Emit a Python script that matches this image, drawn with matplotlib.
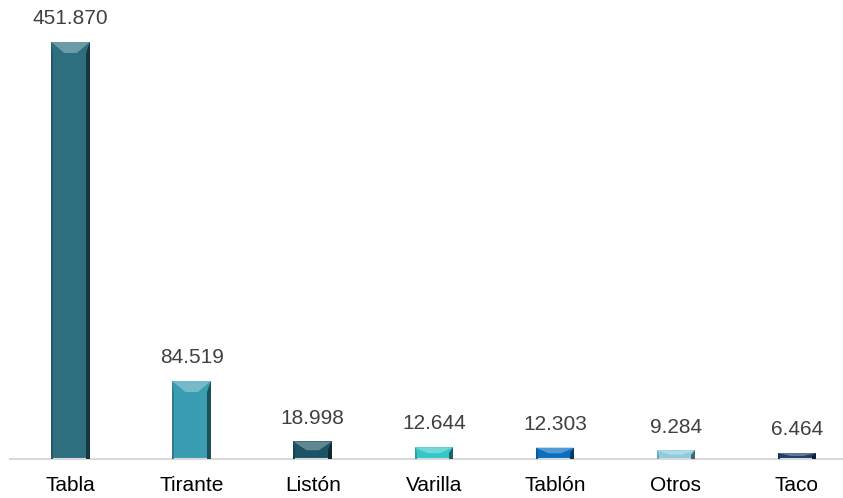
import matplotlib
matplotlib.use("Agg")
import matplotlib.pyplot as plt
from matplotlib.patches import Polygon
import matplotlib.colors as mcolors

# ---------- data ----------
categories = ["Tabla", "Tirante", "Listón", "Varilla", "Tablón", "Otros", "Taco"]
values = [451870, 84519, 18998, 12644, 12303, 9284, 6464]
labels = ["451.870", "84.519", "18.998", "12.644", "12.303", "9.284", "6.464"]
colors = ["#2D6E7F", "#3A9DB2", "#1D5465", "#35C6C8", "#0B6FBF", "#8DCBDF", "#1F3E66"]

plt.rcParams['font.family'] = ['Liberation Sans', 'DejaVu Sans']

fig = plt.figure(figsize=(8.43, 4.98), dpi=100)
ax = fig.add_axes([10 / 843, 1 - 459 / 498, 833 / 843, 459 / 498])

x = list(range(len(categories)))
width = 0.318
bars = ax.bar(x, values, width=width, color=colors, zorder=2)

ymax = values[0] * 459 / 417
xmin, xmax = -0.5, 6.38
ax.set_xlim(xmin, xmax)
ax.set_ylim(0, ymax)

# bevel look: lighter top wedge, darker right edge, derived from each bar
px_x = (xmax - xmin) / 833      # data units per pixel (x)
px_y = ymax / 459               # data units per pixel (y)
for b, c in zip(bars, colors):
    x0, x1 = b.get_x(), b.get_x() + b.get_width()
    h = b.get_height()
    d = min(11 * px_y, h / 2)
    dx = min(13 * px_x, (x1 - x0) / 2)
    base = mcolors.to_rgb(c)
    light = tuple(v + (1 - v) * 0.3 for v in base)
    dark = tuple(v * 0.5 for v in base)
    ax.add_patch(Polygon([(x0, h), (x1, h), (x1 - dx, h - d), (x0 + dx, h - d)],
                         closed=True, color=light, lw=0, zorder=3))
    ax.add_patch(Polygon([(x1, h), (x1, 0), (x1 - 4 * px_x, 0), (x1 - 4 * px_x, h - d)],
                         closed=True, color=dark, lw=0, zorder=3))
    ax.add_patch(Polygon([(x0, h), (x0, 0), (x0 + 2 * px_x, 0), (x0 + 2 * px_x, h - d)],
                         closed=True, color=tuple(v * 0.8 for v in base), lw=0, zorder=3))

for xi, v, lab in zip(x, values, labels):
    ax.annotate(lab, (xi, v), xytext=(0, 10), textcoords="offset points",
                ha="center", va="bottom", fontsize=15, color="#404040")

ax.set_xticks(x)
ax.set_xticklabels(categories, fontsize=15, color="black")
ax.tick_params(axis="x", length=0, pad=12)
ax.set_yticks([])
for s in ["top", "right", "left"]:
    ax.spines[s].set_visible(False)
ax.spines["bottom"].set_color("#D9D9D9")
ax.spines["bottom"].set_linewidth(1.5)

fig.savefig("out.png", dpi=100)
